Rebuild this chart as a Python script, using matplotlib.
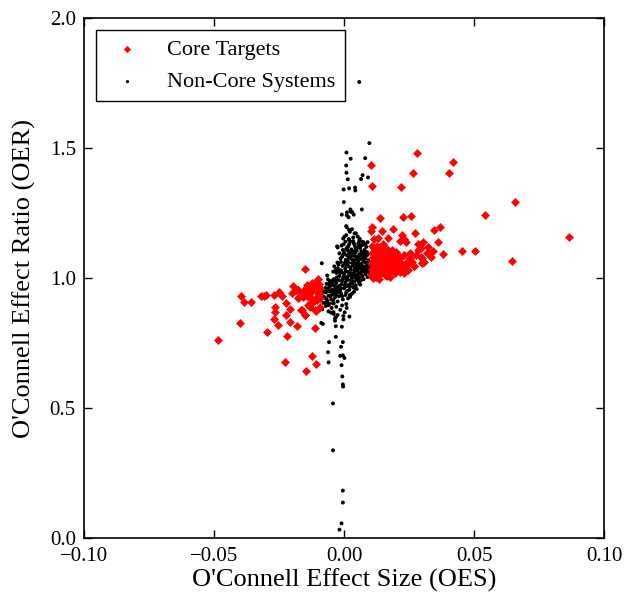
import numpy as np
import matplotlib
matplotlib.use('Agg')
import matplotlib.pyplot as plt

plt.rcParams['font.family'] = ['Liberation Serif', 'DejaVu Serif']

# Core targets (OES, OER)
core_left = [
    (-0.0150, 1.035), (-0.0485, 0.761), (-0.0397, 0.933), (-0.0385, 0.907), (-0.0358, 0.907),
    (-0.0401, 0.826), (-0.0320, 0.932), (-0.0310, 0.933), (-0.0299, 0.934), (-0.0269, 0.935),
    (-0.0249, 0.946), (-0.0240, 0.930), (-0.0199, 0.941), (-0.0187, 0.956), (-0.0175, 0.927),
    (-0.0195, 0.968), (-0.0185, 0.953), (-0.0176, 0.955), (-0.0146, 0.963), (-0.0137, 0.967),
    (-0.0141, 0.932), (-0.0223, 0.906), (-0.0267, 0.887), (-0.0267, 0.871), (-0.0208, 0.882),
    (-0.0165, 0.876), (-0.0152, 0.860), (-0.0139, 0.895), (-0.0224, 0.857), (-0.0268, 0.843),
    (-0.0210, 0.830), (-0.0254, 0.820), (-0.0183, 0.815), (-0.0298, 0.793), (-0.0218, 0.776),
    (-0.0229, 0.677), (-0.0146, 0.642), (-0.0123, 0.700), (-0.0110, 0.669), (-0.0108, 0.873),
    (-0.0114, 0.809), (-0.0135, 0.932), (-0.0122, 0.915), (-0.0105, 0.928),
    (-0.0143, 0.973), (-0.0131, 0.960), (-0.0118, 0.967), (-0.0105, 0.973), (-0.0127, 0.947),
    (-0.0112, 0.954), (-0.0099, 0.956), (-0.0178, 0.954), (-0.0176, 0.922), (-0.0157, 0.926),
    (-0.0137, 0.931), (-0.0118, 0.909), (-0.0105, 0.915), (-0.0163, 0.877), (-0.0150, 0.858),
    (-0.0131, 0.890), (-0.0112, 0.877), (-0.0092, 0.890), (-0.0095, 0.978), (-0.0108, 0.985),
    (-0.0125, 0.980), (-0.0098, 0.940), (-0.0092, 0.962), (-0.0160, 0.945), (-0.0148, 0.950),
    (-0.0100, 0.995), (-0.0092, 0.925),
]
core_right = [
    (0.0281, 1.481), (0.0417, 1.446), (0.0105, 1.435), (0.0264, 1.403), (0.0404, 1.404),
    (0.0109, 1.353), (0.0217, 1.351), (0.0656, 1.292), (0.0541, 1.241), (0.0138, 1.230),
    (0.0228, 1.236), (0.0258, 1.237), (0.0108, 1.196), (0.0104, 1.183), (0.0147, 1.183),
    (0.0187, 1.190), (0.0347, 1.186), (0.0367, 1.195), (0.0274, 1.173), (0.0224, 1.165),
    (0.0113, 1.149), (0.0132, 1.153), (0.0169, 1.153), (0.0213, 1.141), (0.0232, 1.150),
    (0.0237, 1.138), (0.0145, 1.118), (0.0151, 1.133), (0.0285, 1.133), (0.0305, 1.137),
    (0.0360, 1.138), (0.0323, 1.120), (0.0296, 1.114), (0.0283, 1.107), (0.0382, 1.091),
    (0.0454, 1.103), (0.0505, 1.104), (0.0864, 1.159), (0.0644, 1.065), (0.0297, 1.082),
    (0.0299, 1.059), (0.0309, 1.063), (0.0269, 1.046), (0.0247, 1.031), (0.0224, 1.043),
    (0.0226, 1.035), (0.0174, 1.097), (0.0190, 1.090), (0.0113, 1.003), (0.0164, 1.008),
    (0.0254, 1.076), (0.0230, 1.087), (0.0213, 1.076), (0.0247, 1.067), (0.0267, 1.046),
    (0.0228, 1.050), (0.0299, 1.076), (0.0301, 1.057),
    (0.0102, 1.012), (0.0108, 1.035), (0.0104, 1.058), (0.0110, 1.080), (0.0106, 1.097),
    (0.0115, 1.022), (0.0118, 1.048), (0.0114, 1.068), (0.0120, 1.090), (0.0124, 1.005),
    (0.0127, 1.030), (0.0130, 1.055), (0.0126, 1.075), (0.0133, 1.100), (0.0136, 1.015),
    (0.0140, 1.040), (0.0138, 1.062), (0.0142, 1.085), (0.0147, 1.025), (0.0150, 1.050),
    (0.0148, 1.072), (0.0153, 1.095), (0.0156, 1.010), (0.0160, 1.035), (0.0158, 1.060),
    (0.0163, 1.080), (0.0167, 1.045), (0.0170, 1.020), (0.0172, 1.068), (0.0176, 1.088),
    (0.0180, 1.040), (0.0184, 1.058), (0.0188, 1.030), (0.0192, 1.075), (0.0197, 1.050),
    (0.0202, 1.065), (0.0208, 1.040), (0.0212, 1.085), (0.0218, 1.058), (0.0112, 1.002),
    (0.0122, 1.042), (0.0135, 1.028), (0.0145, 1.060), (0.0155, 1.042), (0.0165, 1.058),
    (0.0118, 1.110), (0.0140, 1.108), (0.0162, 1.115), (0.0185, 1.108), (0.0200, 1.100),
    (0.0135, 0.998), (0.0175, 1.005), (0.0195, 1.018), (0.0215, 1.025), (0.0232, 1.020),
    (0.0240, 1.055), (0.0262, 1.062), (0.0275, 1.090), (0.0255, 1.098), (0.0108, 1.122),
    (0.0128, 1.125), (0.0318, 1.097), (0.0340, 1.105), (0.0335, 1.080),
]

# Non-core systems
noncore_upper = [
    (0.0058, 1.754), (0.0097, 1.519), (0.0009, 1.483), (0.0025, 1.459), (0.0081, 1.461),
    (0.0008, 1.433), (0.0009, 1.405), (0.0071, 1.396), (0.0092, 1.387), (0.0065, 1.381),
    (0.0014, 1.380), (-0.0002, 1.341), (0.0019, 1.345), (0.0042, 1.348), (0.0043, 1.337),
    (-0.0001, 1.292), (0.0068, 1.264), (0.0024, 1.264), (0.0031, 1.254), (0.0011, 1.253),
    (-0.0009, 1.244), (0.0010, 1.242), (0.0017, 1.234), (0.0037, 1.244), (0.0026, 1.255),
    (0.0008, 1.200), (0.0019, 1.185), (0.0040, 1.172), (0.0001, 1.159), (0.0019, 1.146),
    (0.0055, 1.133), (0.0074, 1.138), (-0.0027, 1.122), (-0.0086, 1.057), (-0.0026, 1.060),
    (-0.0065, 1.010),
]
noncore_core = [
    (0.0010, 1.196), (0.0030, 1.188), (0.0022, 1.178), (0.0045, 1.172), (0.0008, 1.165),
    (0.0052, 1.160), (0.0035, 1.156), (-0.0004, 1.152), (0.0018, 1.150), (0.0060, 1.151),
    (-0.0025, 1.118), (-0.0010, 1.125), (0.0005, 1.140), (0.0012, 1.118), (0.0020, 1.131),
    (0.0028, 1.110), (0.0035, 1.142), (0.0041, 1.123), (0.0048, 1.105), (0.0055, 1.133),
    (0.0062, 1.115), (0.0070, 1.127), (0.0078, 1.108), (0.0085, 1.120), (0.0032, 1.102),
    (0.0015, 1.105), (-0.0005, 1.108), (0.0058, 1.145), (0.0090, 1.138), (0.0066, 1.102),
    (-0.0018, 1.095), (-0.0008, 1.082), (0.0000, 1.098), (0.0006, 1.070), (0.0010, 1.088),
    (0.0016, 1.060), (0.0020, 1.094), (0.0024, 1.076), (0.0030, 1.058), (0.0034, 1.086),
    (0.0038, 1.068), (0.0042, 1.097), (0.0046, 1.052), (0.0050, 1.080), (0.0054, 1.064),
    (0.0058, 1.091), (0.0062, 1.073), (0.0066, 1.055), (0.0070, 1.085), (0.0074, 1.066),
    (0.0078, 1.097), (0.0082, 1.077), (0.0086, 1.058), (0.0090, 1.089), (0.0094, 1.069),
    (0.0097, 1.052), (0.0012, 1.052), (0.0028, 1.099), (0.0048, 1.072), (0.0060, 1.050),
    (0.0072, 1.093), (0.0088, 1.100), (-0.0012, 1.062), (0.0002, 1.055), (0.0040, 1.057),
    (0.0080, 1.061), (0.0018, 1.078), (0.0056, 1.082), (0.0068, 1.097), (0.0036, 1.093),
    (-0.0038, 1.045), (-0.0030, 1.020), (-0.0024, 1.038), (-0.0018, 1.008), (-0.0012, 1.030),
    (-0.0006, 1.047), (0.0000, 1.015), (0.0004, 1.036), (0.0010, 1.002), (0.0014, 1.024),
    (0.0018, 1.044), (0.0022, 1.012), (0.0026, 1.032), (0.0030, 1.005), (0.0034, 1.048),
    (0.0038, 1.021), (0.0042, 1.038), (0.0046, 1.010), (0.0050, 1.028), (0.0054, 1.045),
    (0.0058, 1.003), (0.0062, 1.018), (0.0066, 1.036), (0.0070, 1.008), (0.0074, 1.026),
    (0.0078, 1.044), (0.0082, 1.015), (0.0086, 1.032), (0.0090, 1.004), (0.0094, 1.022),
    (0.0098, 1.040), (-0.0028, 1.003), (0.0008, 1.048), (0.0044, 1.001), (0.0064, 1.049),
    (0.0088, 1.047), (-0.0008, 1.022), (0.0026, 1.018), (0.0052, 1.013), (0.0076, 1.033),
    (-0.0060, 0.962), (-0.0055, 0.985), (-0.0050, 0.952), (-0.0045, 0.975), (-0.0040, 0.996),
    (-0.0035, 0.958), (-0.0030, 0.981), (-0.0025, 0.966), (-0.0020, 0.992), (-0.0015, 0.953),
    (-0.0010, 0.977), (-0.0005, 0.998), (0.0000, 0.961), (0.0005, 0.984), (0.0010, 0.969),
    (0.0015, 0.993), (0.0020, 0.955), (0.0025, 0.979), (0.0030, 0.998), (0.0035, 0.964),
    (0.0040, 0.987), (0.0045, 0.972), (0.0050, 0.995), (0.0058, 0.981), (0.0065, 0.992),
    (0.0075, 0.996), (-0.0048, 0.990), (-0.0022, 0.950), (0.0012, 0.951), (0.0028, 0.988),
    (-0.0038, 0.970), (0.0048, 0.958), (-0.0068, 0.978), (-0.0062, 0.995), (0.0018, 0.974),
    (-0.0090, 0.915), (-0.0085, 0.935), (-0.0080, 0.905), (-0.0075, 0.925), (-0.0070, 0.945),
    (-0.0065, 0.912), (-0.0060, 0.932), (-0.0055, 0.948), (-0.0050, 0.918), (-0.0045, 0.938),
    (-0.0040, 0.903), (-0.0035, 0.926), (-0.0030, 0.944), (-0.0025, 0.910), (-0.0020, 0.930),
    (-0.0012, 0.941), (-0.0005, 0.918), (0.0005, 0.935), (0.0015, 0.922), (0.0030, 0.940),
    (-0.0078, 0.948), (-0.0058, 0.902),
    (-0.0070, 0.893), (-0.0060, 0.872), (-0.0048, 0.885), (-0.0040, 0.862), (-0.0030, 0.890),
    (-0.0025, 0.858), (-0.0015, 0.878), (-0.0008, 0.895), (0.0002, 0.868), (0.0010, 0.885),
    (-0.0085, 0.880), (0.0020, 0.852), (-0.0035, 0.845),
]
noncore_fill = [
    (-0.0002, 1.130), (0.0016, 1.122), (0.0038, 1.132), (0.0052, 1.118), (0.0068, 1.140),
    (0.0082, 1.130), (0.0024, 1.141), (0.0008, 1.112), (0.0044, 1.110), (0.0060, 1.125),
    (-0.0014, 1.075), (-0.0004, 1.090), (0.0004, 1.060), (0.0014, 1.070), (0.0022, 1.086),
    (0.0032, 1.070), (0.0044, 1.083), (0.0052, 1.057), (0.0064, 1.090), (0.0076, 1.075),
    (0.0084, 1.088), (0.0092, 1.062), (-0.0022, 1.052), (-0.0032, 1.032), (-0.0016, 1.020),
    (-0.0002, 1.005), (0.0006, 1.026), (0.0016, 1.008), (0.0024, 1.040), (0.0034, 1.012),
    (0.0040, 1.030), (0.0048, 1.042), (0.0056, 1.020), (0.0068, 1.024), (0.0072, 1.045),
    (0.0084, 1.024), (0.0092, 1.035), (-0.0042, 1.025), (-0.0020, 1.028), (0.0060, 1.036),
    (-0.0052, 0.970), (-0.0042, 0.985), (-0.0032, 0.992), (-0.0028, 0.957), (-0.0018, 0.970),
    (-0.0008, 0.988), (0.0002, 0.973), (0.0008, 0.995), (0.0022, 0.967), (0.0032, 0.978),
    (0.0042, 0.962), (0.0054, 0.990), (0.0062, 0.975), (-0.0012, 0.962), (-0.0058, 0.975),
    (-0.0072, 0.962), (-0.0080, 0.930), (-0.0068, 0.920), (-0.0052, 0.930), (-0.0042, 0.915),
    (-0.0032, 0.935), (-0.0018, 0.945), (-0.0008, 0.930), (0.0008, 0.945), (0.0022, 0.935),
    (-0.0064, 0.950), (-0.0046, 0.955), (-0.0086, 0.922), (-0.0072, 0.905), (-0.0038, 0.945),
]
noncore_lower = [
    (-0.0082, 0.824), (-0.0088, 0.828), (-0.0050, 0.867), (-0.0041, 0.869), (-0.0059, 0.896),
    (-0.0043, 0.903), (-0.0032, 0.849), (-0.0035, 0.836), (-0.0003, 0.854), (-0.0003, 0.841),
    (0.0038, 0.947), (0.0023, 0.928), (0.0008, 0.900), (-0.0009, 0.813), (-0.0032, 0.815),
    (-0.0058, 0.754), (-0.0005, 0.754), (-0.0032, 0.774), (-0.0012, 0.736), (-0.0062, 0.715),
    (-0.0015, 0.701), (-0.0005, 0.703), (0.0001, 0.693), (-0.0060, 0.676), (-0.0010, 0.665),
    (-0.0007, 0.622), (-0.0005, 0.591), (-0.0004, 0.583), (-0.0043, 0.518), (-0.0043, 0.338),
    (-0.0005, 0.183), (-0.0005, 0.137), (-0.0010, 0.057), (-0.0018, 0.033),
]

core = np.array(core_left + core_right)
noncore = np.array(noncore_upper + noncore_core + noncore_fill + noncore_lower)

fig = plt.figure(figsize=(6.28, 6.0), dpi=100)
ax = fig.add_axes([0.134, 0.103, 0.828, 0.867])

ax.scatter(core[:, 0], core[:, 1], marker='D', s=17, color='red',
           edgecolors='red', linewidths=0.4, label='Core Targets', zorder=3)
ax.scatter(noncore[:, 0], noncore[:, 1], marker='o', s=8, color='black',
           edgecolors='none', label='Non-Core Systems', zorder=2)

ax.set_xlim(-0.10, 0.10)
ax.set_ylim(0.0, 2.0)
ax.set_xticks([-0.10, -0.05, 0.0, 0.05, 0.10])
ax.set_yticks([0.0, 0.5, 1.0, 1.5, 2.0])
ax.tick_params(direction='in', top=True, right=True, length=6, width=1,
               labelsize=15, pad=6)
for sp in ax.spines.values():
    sp.set_linewidth(1.2)

ax.set_xlabel("O'Connell Effect Size (OES)", fontsize=19, labelpad=2)
ax.set_ylabel("O'Connell Effect Ratio (OER)", fontsize=19, labelpad=10)

leg = ax.legend(loc='upper left', scatterpoints=1, fontsize=16, fancybox=False,
                edgecolor='black', framealpha=1, borderpad=0.4, labelspacing=0.55,
                handletextpad=0.8, borderaxespad=0.55, markerscale=0.8)
leg.get_frame().set_linewidth(1.0)

fig.savefig('out.png', dpi=100)
